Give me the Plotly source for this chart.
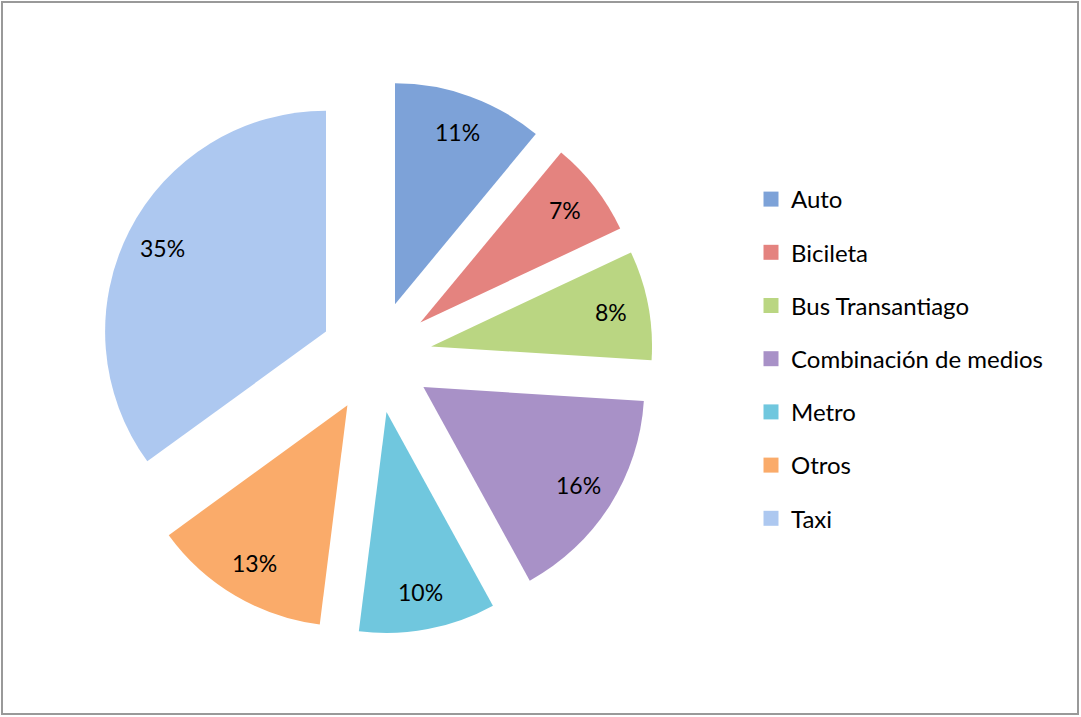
import math
import plotly.graph_objects as go

# Modal share of trips by transport mode
modes = ["Auto", "Bicileta", "Bus Transantiago", "Combinación de medios", "Metro", "Otros", "Taxi"]
shares = [11, 7, 8, 16, 10, 13, 35]
colors = ["#7da2d8", "#e4837f", "#bad682", "#a891c7", "#70c7de", "#faab6a", "#adc8f0"]

W, H = 1081, 717
FONT = "Lato, 'Open Sans', sans-serif"

# Pie placement (pixels) and explosion
DOM_X = (99, 653)
DOM_Y = (80, 634)          # measured from the top edge
PULL = 0.254
LABEL_R = 0.83             # label distance from the slice tip, in radii

fig = go.Figure()

fig.add_trace(go.Pie(
    labels=modes,
    values=shares,
    sort=False,
    direction="clockwise",
    rotation=0,
    pull=[PULL] * len(modes),
    marker=dict(colors=colors, line=dict(width=0)),
    textinfo="none",
    domain=dict(x=[DOM_X[0] / W, DOM_X[1] / W],
                y=[1 - DOM_Y[1] / H, 1 - DOM_Y[0] / H]),
    showlegend=False,
    hoverinfo="label+percent",
))

# Percentage labels placed along each slice's bisector, near the rim
cx = (DOM_X[0] + DOM_X[1]) / 2
cy = (DOM_Y[0] + DOM_Y[1]) / 2
radius = min(DOM_X[1] - DOM_X[0], DOM_Y[1] - DOM_Y[0]) / 2 / (1 + PULL)
total = sum(shares)
annotations = []
cum = 0.0
for v in shares:
    mid = (cum + v / 2) / total * 2 * math.pi
    cum += v
    dist = (PULL + LABEL_R) * radius
    px = cx + dist * math.sin(mid)
    py = cy - dist * math.cos(mid)
    annotations.append(dict(
        x=px / W, y=1 - py / H, xref="paper", yref="paper",
        text=f"{v / total * 100:.0f}%", showarrow=False,
        xanchor="center", yanchor="middle",
        font=dict(family=FONT, size=23, color="#000000"),
    ))

# Legend entries, one group each so the gap between rows can be set
for name, col in zip(modes, colors):
    fig.add_trace(go.Scatter(
        x=[None], y=[None], mode="markers", name=name, legendgroup=name,
        marker=dict(symbol="square", size=15, color=col),
        hoverinfo="skip",
    ))

fig.update_layout(
    width=W, height=H,
    margin=dict(l=0, r=0, t=0, b=0),
    paper_bgcolor="white", plot_bgcolor="white",
    xaxis=dict(visible=False), yaxis=dict(visible=False),
    legend=dict(
        x=751 / W, y=1 - 177 / H, xanchor="left", yanchor="top",
        font=dict(family=FONT, size=24, color="#000000"),
        tracegroupgap=19, itemwidth=30,
        bgcolor="rgba(0,0,0,0)",
    ),
    annotations=annotations,
    shapes=[dict(
        type="rect", xref="paper", yref="paper",
        x0=2 / W, x1=1 - 3 / W, y0=3 / H, y1=1 - 2 / H,
        line=dict(color="#999999", width=2),
    )],
)

fig.write_html("out.html")
